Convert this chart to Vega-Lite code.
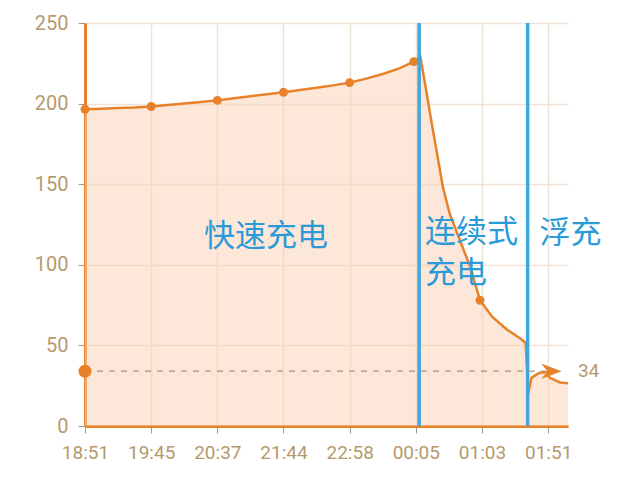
{
  "$schema": "https://vega.github.io/schema/vega-lite/v6.json",
  "autosize": {"type": "none"},
  "padding": {"left": 85, "top": 23, "right": 72, "bottom": 51},
  "width": 483,
  "height": 403,
  "background": "white",
  "datasets": {
    "curve": [
      {"t": 0, "v": 196.5}, {"t": 0.25, "v": 196.8}, {"t": 0.5, "v": 197.3}, {"t": 0.75, "v": 197.6},
      {"t": 1, "v": 198.2}, {"t": 1.25, "v": 199.2}, {"t": 1.5, "v": 200.1}, {"t": 1.75, "v": 201},
      {"t": 2, "v": 202}, {"t": 2.25, "v": 203.3}, {"t": 2.5, "v": 204.6}, {"t": 2.75, "v": 205.8},
      {"t": 3, "v": 207}, {"t": 3.25, "v": 208.4}, {"t": 3.5, "v": 209.8}, {"t": 3.75, "v": 211.3},
      {"t": 4, "v": 213}, {"t": 4.25, "v": 215.5}, {"t": 4.5, "v": 218.4}, {"t": 4.75, "v": 221.8},
      {"t": 4.97, "v": 226}, {"t": 5.07, "v": 229}, {"t": 5.24, "v": 188}, {"t": 5.41, "v": 148},
      {"t": 5.51, "v": 132}, {"t": 5.62, "v": 120}, {"t": 5.82, "v": 99}, {"t": 5.97, "v": 78},
      {"t": 6.15, "v": 68}, {"t": 6.37, "v": 60}, {"t": 6.57, "v": 54.6}, {"t": 6.66, "v": 51.5},
      {"t": 6.7, "v": 20.5}, {"t": 6.75, "v": 30}, {"t": 6.87, "v": 33}, {"t": 6.98, "v": 33.5},
      {"t": 7.02, "v": 30}, {"t": 7.18, "v": 27}, {"t": 7.3, "v": 26.5}
    ],
    "dots": [
      {"t": 0, "v": 196.5}, {"t": 1, "v": 198.2}, {"t": 2, "v": 202}, {"t": 3, "v": 207},
      {"t": 4, "v": 213}, {"t": 4.97, "v": 226}, {"t": 5.97, "v": 78}
    ],
    "phases": [{"t": 5.05}, {"t": 6.69}],
    "labels": [
      {"t": 1.8, "v": 117, "label": "快速充电"},
      {"t": 5.14, "v": 120, "label": "连续式"},
      {"t": 5.14, "v": 94, "label": "充电"},
      {"t": 6.87, "v": 119, "label": "浮充"}
    ]
  },
  "config": {
    "view": {"stroke": null},
    "axis": {
      "labelFont": "Roboto",
      "labelFontSize": 19,
      "labelColor": "#b59a6c",
      "labelOverlap": false,
      "labelFlush": false,
      "gridColor": "#efe3d5",
      "gridWidth": 1.5,
      "tickColor": "#9a9a9a",
      "tickSize": 7,
      "domainColor": "#e8822a",
      "domainWidth": 3,
      "title": null
    }
  },
  "layer": [
    {
      "data": {"name": "curve"},
      "mark": {"type": "area", "color": "#fbcfb2", "opacity": 0.5},
      "encoding": {
        "x": {
          "field": "t",
          "type": "quantitative",
          "scale": {"domain": [0, 7.3], "nice": false, "zero": false},
          "axis": {
            "values": [0, 1, 2, 3, 4, 5, 6, 7],
            "labelPadding": 10,
            "labelExpr": "['18:51','19:45','20:37','21:44','22:58','00:05','01:03','01:51'][datum.value]"
          }
        },
        "y": {
          "field": "v",
          "type": "quantitative",
          "scale": {"domain": [0, 250], "nice": false},
          "axis": {"values": [0, 50, 100, 150, 200, 250], "labelPadding": 10, "labelFontSize": 20}
        }
      }
    },
    {
      "data": {"name": "curve"},
      "mark": {"type": "line", "color": "#e8822a", "strokeWidth": 2.5},
      "encoding": {
        "x": {"field": "t", "type": "quantitative"},
        "y": {"field": "v", "type": "quantitative"}
      }
    },
    {
      "data": {"name": "dots"},
      "mark": {"type": "circle", "color": "#e8822a", "size": 80, "opacity": 1},
      "encoding": {
        "x": {"field": "t", "type": "quantitative"},
        "y": {"field": "v", "type": "quantitative"}
      }
    },
    {
      "data": {"values": [{"t": 0, "t2": 6.95, "v": 34}]},
      "mark": {"type": "rule", "color": "#a39483", "strokeDash": [6, 6], "strokeWidth": 1.2},
      "encoding": {
        "x": {"field": "t", "type": "quantitative"},
        "x2": {"field": "t2"},
        "y": {"field": "v", "type": "quantitative"}
      }
    },
    {
      "data": {"name": "phases"},
      "mark": {"type": "rule", "color": "#3ea5df", "strokeWidth": 3.5},
      "encoding": {
        "x": {"field": "t", "type": "quantitative"}
      }
    },
    {
      "data": {"name": "labels"},
      "mark": {"type": "text", "align": "left", "baseline": "middle", "font": "Noto Sans CJK SC", "fontSize": 31, "color": "#2a9ad8"},
      "encoding": {
        "x": {"field": "t", "type": "quantitative"},
        "y": {"field": "v", "type": "quantitative"},
        "text": {"field": "label"}
      }
    },
    {
      "data": {"values": [{"t": 0, "v": 34}]},
      "mark": {"type": "circle", "color": "#e8822a", "size": 170, "opacity": 1},
      "encoding": {
        "x": {"field": "t", "type": "quantitative"},
        "y": {"field": "v", "type": "quantitative"}
      }
    },
    {
      "data": {"values": [{"t": 7.05, "v": 34}]},
      "mark": {"type": "point", "shape": "M-1,-0.75L1,0L-1,0.75L-0.4,0Z", "filled": true, "color": "#e8822a", "size": 420, "opacity": 1},
      "encoding": {
        "x": {"field": "t", "type": "quantitative"},
        "y": {"field": "v", "type": "quantitative"}
      }
    },
    {
      "data": {"values": [{"t": 7.45, "v": 34, "label": "34"}]},
      "mark": {"type": "text", "align": "left", "baseline": "middle", "font": "Roboto", "fontSize": 19, "color": "#b59a6c"},
      "encoding": {
        "x": {"field": "t", "type": "quantitative"},
        "y": {"field": "v", "type": "quantitative"},
        "text": {"field": "label"}
      }
    }
  ]
}
